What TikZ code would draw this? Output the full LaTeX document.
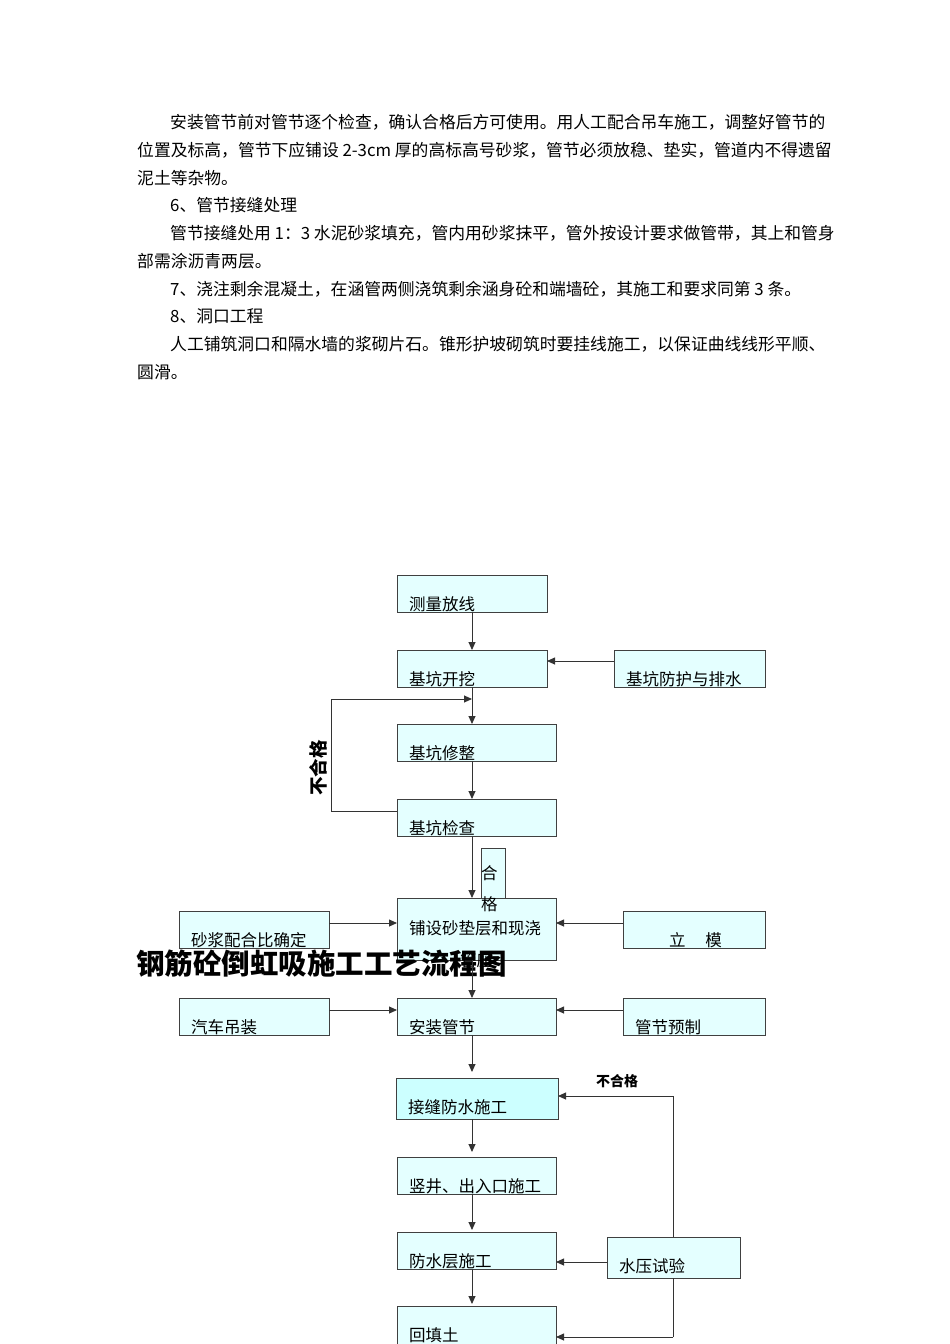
\documentclass[tikz,border=0pt]{standalone}
\usepackage{fontspec}
\setmainfont{Liberation Serif}
\newfontfamily\cjk{Noto Sans CJK SC}
\usetikzlibrary{arrows.meta}
\definecolor{boxfill}{HTML}{E4FFFF}
\definecolor{boxfillb}{HTML}{CCFFFF}
\begin{document}
\begin{tikzpicture}[x=1pt,y=-1pt,
  bx/.style={draw=black!75,fill=boxfill,line width=0.8pt,inner sep=0},
  lbl/.style={font=\cjk\fontsize{16.5}{16.5}\selectfont,anchor=base west,inner sep=0},
  para/.style={font=\cjk\fontsize{16.8}{16.8}\selectfont,anchor=base west,inner sep=0},
  ar/.style={-{Triangle[length=8pt,width=7pt]},line width=0.9pt,draw=black!80},
  ln/.style={line width=0.9pt,draw=black!80}]
\useasboundingbox[fill=white] (0,0) rectangle (950,1344);
% paragraphs
\node[para] (p1) at (170,128) {安装管节前对管节逐个检查，确认合格后方可使用。用人工配合吊车施工，调整好管节的};
\node[para] (p2) at (137,156) {位置及标高，管节下应铺设 2-3cm 厚的高标高号砂浆，管节必须放稳、垫实，管道内不得遗留};
\node[para] (p3) at (137,184) {泥土等杂物。};
\node[para] (p4) at (170,211) {6、管节接缝处理};
\node[para] (p5) at (170,239) {管节接缝处用 1：3 水泥砂浆填充，管内用砂浆抹平，管外按设计要求做管带，其上和管身};
\node[para] (p6) at (137,267) {部需涂沥青两层。};
\node[para] (p7) at (170,295) {7、浇注剩余混凝土，在涵管两侧浇筑剩余涵身砼和端墙砼，其施工和要求同第 3 条。};
\node[para] (p8) at (170,322) {8、洞口工程};
\node[para] (p9) at (170,350) {人工铺筑洞口和隔水墙的浆砌片石。锥形护坡砌筑时要挂线施工，以保证曲线线形平顺、};
\node[para] (p10) at (137,378) {圆滑。};
% boxes
\path[bx] (397,575) rectangle (547,612); \node[lbl] (t1) at (409,610) {测量放线};
\path[bx] (397,650) rectangle (547,687); \node[lbl] (t2) at (409,685) {基坑开挖};
\path[bx] (614,650) rectangle (765,687); \node[lbl] (t3) at (626,685) {基坑防护与排水};
\path[bx] (397,724) rectangle (556,761); \node[lbl] (t4) at (409,759) {基坑修整};
\path[bx] (397,799) rectangle (556,836); \node[lbl] (t5) at (409,834) {基坑检查};
\path[bx] (179,911) rectangle (329,948); \node[lbl] (t7) at (191,946) {砂浆配合比确定};
\path[bx] (623,911) rectangle (765,948); \node[lbl] (t8) at (669,946) {立\hspace{1.2em}模};
\path[bx] (397,898) rectangle (556,960); \node[lbl] (t6) at (409,934) {铺设砂垫层和现浇};
\node[lbl] (t6b) at (460,966) {管座};
\path[bx] (481,848) rectangle (505,898); \node[lbl] (h1) at (481,879) {合};
\node[lbl] (h2) at (481,910) {格};
\node[font=\cjk\bfseries\fontsize{28.5}{28.5}\selectfont,anchor=base west,inner sep=0] (title) at (136,974) {钢筋砼倒虹吸施工工艺流程图};
\path[bx] (179,998) rectangle (329,1035); \node[lbl] (t9) at (191,1033) {汽车吊装};
\path[bx] (397,998) rectangle (556,1035); \node[lbl] (t10) at (409,1033) {安装管节};
\path[bx] (623,998) rectangle (765,1035); \node[lbl] (t11) at (635,1033) {管节预制};
\path[bx,fill=boxfillb] (396,1078) rectangle (558,1119); \node[lbl] (t12) at (408,1113) {接缝防水施工};
\path[bx] (397,1157) rectangle (556,1194); \node[lbl] (t13) at (409,1192) {竖井、出入口施工};
\path[bx] (397,1232) rectangle (556,1269); \node[lbl] (t14) at (409,1267) {防水层施工};
\path[bx] (607,1237) rectangle (740,1278); \node[lbl] (t15) at (619,1272) {水压试验};
\path[bx] (397,1306) rectangle (556,1350); \node[lbl] (t16) at (409,1341) {回填土};
% connectors
\draw[ar] (472,612) -- (472,650);
\draw[ar] (614,661) -- (547,661);
\draw[ar] (472,687) -- (472,724);
\draw[ln] (397,811) -- (331,811) -- (331,699);
\draw[ar] (331,699) -- (472,699);
\node[font=\cjk\bfseries\fontsize{18.5}{18.5}\selectfont,rotate=90,inner sep=0] (ng1) at (318,768) {不合格};
\draw[ar] (472,761) -- (472,799);
\draw[ar] (472,836) -- (472,898);
\draw[ar] (329,923) -- (397,923);
\draw[ar] (623,923) -- (556,923);
\draw[ar] (472,960) -- (472,998);
\draw[ar] (329,1010) -- (397,1010);
\draw[ar] (623,1010) -- (556,1010);
\draw[ar] (472,1035) -- (472,1072);
\draw[ar] (472,1119) -- (472,1152);
\draw[ar] (472,1194) -- (472,1230);
\draw[ar] (472,1269) -- (472,1304);
\draw[ln] (673,1237) -- (673,1096);
\draw[ar] (673,1096) -- (558,1096);
\node[font=\cjk\bfseries\fontsize{14}{14}\selectfont,anchor=base west,inner sep=0] (ng2) at (596,1086) {不合格};
\draw[ar] (607,1262) -- (556,1262);
\draw[ln] (673,1278) -- (673,1337);
\draw[ar] (673,1337) -- (556,1337);
\end{tikzpicture}
\end{document}
